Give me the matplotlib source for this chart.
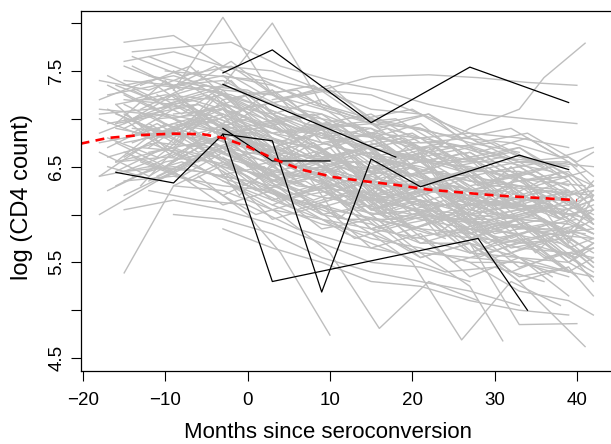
import matplotlib
matplotlib.use("Agg")
import matplotlib.pyplot as plt

# individual trajectories (months, log CD4)
gray_t = [
    [-15, -9, -3, 3, 9, 15, 21, 27, 33, 39],
    [-16, -10, -4, 2, 8, 14, 20, 26, 32, 38],
    [-14, -8, -2, 4, 10, 16, 22, 28, 34, 40],
    [-18, -12, -6, 0, 6, 12, 18, 24, 30, 36, 42],
    [-13, -7, -1, 5, 11, 17, 23, 29, 35, 41],
    [-15, -9, -3, 3, 9, 15, 21],
    [-12, -6, 0, 6, 12, 18, 24, 30, 36],
    [-3, 3, 9, 15, 21, 27, 33, 39],
    [-17, -11, -5, 1, 7, 13, 19, 25, 31, 37],
    [-16, -9, -3, 3, 9, 15, 21, 27, 33],
    [-10, -4, 2, 8, 14, 20, 26, 32, 38],
    [-15, -9, -3, 3, 9, 15, 21, 27, 33, 39, 42],
    [-3, 3, 9, 15, 21, 27, 33, 39],
    [-14, -8, -2, 4, 10, 16, 22, 28],
    [3, 9, 15, 21, 27, 33, 39, 42],
    [-18, -12, -6, 0, 6],
    [-9, -3, 3, 9, 15, 21, 27, 33],
    [9, 15, 21, 27, 33, 39],
    [-17, -11, -5, 1, 7, 13, 19, 25, 31, 37, 42],
    [-15, -9, -3, 3, 9, 15, 21, 27, 33, 39],
    [-13, -7, -1, 5, 11, 17, 23, 29, 35],
    [-3, 3, 9, 15, 21, 27, 33, 39, 42],
    [-16, -10, -4, 2, 8, 14, 20],
    [15, 21, 27, 33, 39, 42],
    [-12, -6, 0, 6, 12, 18, 24, 30, 36, 42],
    [-15, -9, -3, 3, 9, 15, 21, 27, 33, 39],
    [-9, -3, 3, 9, 15, 21, 27, 33, 39],
    [-18, -12, -6, 0, 6, 12, 18, 24],
    [21, 27, 33, 39, 42],
    [-14, -8, -2, 4, 10, 16, 22, 28, 34, 40],
    [-15, -9, -3, 3, 9, 15, 21, 27],
    [-11, -5, 1, 7, 13, 19, 25, 31, 37],
    [-3, 3, 9, 15, 21, 27, 33, 39, 42],
    [-17, -11, -5, 1, 7, 13, 19, 25, 31, 37],
    [3, 9, 15, 21, 27, 33, 39],
    [-15, -9, -3, 3, 9, 15, 21, 27, 33, 39, 42],
    [-3, 3, 9, 15, 21, 27, 33],
    [-16, -10, -4, 2, 8, 14, 20, 26, 32, 38],
    [-13, -7, -1, 5, 11, 17, 23, 29, 35, 41],
    [-18, -12, -6, 0, 6, 12, 18, 24, 30, 36],
    [-3, 3, 9, 15, 21, 27, 33, 39],
    [9, 15, 21, 27, 33, 39, 42],
    [-14, -8, -2, 4, 10, 16, 22, 28, 34, 40],
    [-9, -3, 3, 9, 15, 21, 27, 33, 39],
    [-15, -9, -3, 3, 9, 15, 21, 27, 33, 39],
    [-12, -6, 0, 6, 12, 18, 24, 30, 36, 42],
    [15, 21, 27, 33, 39],
    [-16, -10, -4, 2, 8, 14, 20, 26],
    [-15, -9, -3, 3, 9, 15, 21, 27, 33, 39, 42],
    [-3, 3, 9, 15, 21, 27, 33, 39],
    [-9, -3, 3, 9, 15, 21, 27, 33, 39],
    [-9, -3, 3, 9, 15, 21, 27, 33, 39],
    [-15, -9, -3, 3, 9],
    [-15, -9, -3, 3],
    [-6, 0, 4, 10],
    [-2, 4, 10, 16, 22, 28],
    [9, 15, 20, 26, 32, 38],
    [15, 21, 27, 31],
    [21, 27, 33, 41],
    [15, 21, 27, 33, 40],
    [21, 27, 33, 36, 41],
    [3, 9, 15, 22, 28, 34, 40],
    [-16, -10, -4, 2, 8, 14, 20, 26, 32, 38, 42],
    [-13, -7, -1, 5, 11, 17, 23, 29, 35, 41],
    [-18, -12, -6, 0, 6, 12, 18],
    [-18, -12, -6],
    [27, 33, 39, 42],
    [-3, 3, 9, 15, 21, 27, 33, 39, 42],
    [-15, -9, -3, 3, 9, 15, 21, 27, 33, 39],
    [-14, -8, -2, 4, 10, 16, 22, 28, 34, 40],
    [-10, -4, 2, 8, 14, 20, 26, 32, 38, 42],
    [-3, 3, 9, 15, 21, 27, 33, 39],
    [9, 15, 21, 27, 33, 39, 42],
    [-12, -6, 0, 6, 12, 18, 24, 30, 36],
    [-17, -11, -5, 1, 7, 13, 19, 25, 31, 37, 42],
    [15, 21, 27, 33, 39, 42],
    [-15, -9, -3, 3, 9, 15, 21],
    [3, 9, 15, 21, 27, 33, 39, 42],
    [-9, -3, 3, 9, 15, 21, 27, 33, 39],
    [-16, -10, -4, 2, 8, 14, 20, 26, 32, 38],
    [-17, -11, -5, 1, 7, 13, 19, 25, 31, 37, 42],
    [-14, -8, -2, 4, 10, 16, 22, 28, 34, 40],
    [-15, -9, -3, 3, 9, 15, 21, 27, 33, 39, 42],
    [-12, -6, 0, 6, 12, 18, 24, 30, 36, 42],
    [-16, -10, -4, 2, 8, 14, 20, 26, 32, 38, 42],
    [-13, -7, -1, 5, 11, 17, 23, 29, 35, 41],
    [-18, -12, -6, 0, 6, 12, 18, 24, 30, 36, 42],
    [-9, -3, 3, 9, 15, 21, 27, 33, 39, 42],
    [-15, -9, -3, 3, 9, 15, 21, 27, 33, 39],
    [-11, -5, 1, 7, 13, 19, 25, 31, 37, 42],
    [-3, 3, 9, 15, 21, 27, 33, 39, 42],
    [-16, -10, -4, 2, 8, 14, 20, 26, 32, 38],
    [-14, -8, -2, 4, 10, 16, 22, 28, 34, 40, 42],
    [-17, -11, -5, 1, 7, 13, 19, 25, 31, 37],
    [3, 9, 15, 21, 27, 33, 39, 42],
    [-15, -9, -3, 3, 9, 15, 21, 27, 33, 39, 42],
    [-12, -6, 0, 6, 12, 18, 24, 30, 36, 42],
    [-18, -12, -6, 0, 6, 12, 18, 24, 30, 36],
    [-13, -7, -1, 5, 11, 17, 23, 29, 35, 41],
    [-9, -3, 3, 9, 15, 21, 27, 33, 39, 42],
    [-16, -10, -4, 2, 8, 14, 20, 26, 32, 38, 42],
    [-14, -8, -2, 4, 10, 16, 22, 28, 34, 40],
    [-15, -9, -3, 3, 9, 15, 21, 27, 33, 39],
    [9, 15, 21, 27, 33, 39, 42],
    [-17, -11, -5, 1, 7, 13, 19, 25, 31, 37, 42],
    [-12, -6, 0, 6, 12, 18, 24, 30, 36, 42],
    [-15, -9, -3, 3, 9, 15, 21, 27, 33, 39],
    [-3, 3, 9, 15, 21, 27, 33, 39, 42],
    [-13, -7, -1, 5, 11, 17, 23, 29, 35, 41],
    [-16, -10, -4, 2, 8, 14, 20, 26, 32, 38],
    [-18, -12, -6, 0, 6, 12, 18, 24, 30, 36, 42],
    [-14, -8, -2, 4, 10, 16, 22, 28, 34, 40, 42],
    [-9, -3, 3, 9, 15, 21, 27, 33, 39],
    [-11, -5, 1, 7, 13, 19, 25, 31, 37, 42],
    [15, 21, 27, 33, 39, 42],
    [-15, -9, -3, 3, 9, 15, 21, 27, 33, 39, 42],
    [-17, -11, -5, 1, 7, 13, 19, 25, 31, 37],
    [-12, -6, 0, 6, 12, 18, 24, 30, 36, 42],
    [-3, 3, 9, 15, 21, 27, 33, 39],
    [-16, -10, -4, 2, 8, 14, 20, 26, 32, 38, 42],
    [-14, -8, -2, 4, 10, 16, 22, 28, 34, 40],
    [-13, -7, -1, 5, 11, 17, 23, 29, 35, 41],
    [3, 9, 15, 21, 27, 33, 39, 42],
    [-15, -9, -3, 3, 9, 15, 21, 27, 33, 39],
    [-18, -12, -6, 0, 6, 12, 18, 24, 30, 36],
    [-10, -4, 2, 8, 14, 20, 26, 32, 38, 42],
    [-17, -11, -5, 1, 7, 13, 19, 25, 31, 37, 42],
    [9, 15, 21, 27, 33, 39, 42],
    [-15, -9, -3, 3, 9, 15, 21, 27, 33, 39, 42],
    [-12, -6, 0, 6, 12, 18, 24, 30, 36],
    [-14, -8, -2, 4, 10, 16, 22, 28, 34, 40],
    [-16, -10, -4, 2, 8, 14, 20, 26, 32, 38],
    [-3, 3, 9, 15, 21, 27, 33, 39, 42],
    [-13, -7, -1, 5, 11, 17, 23, 29, 35, 41],
    [-9, -3, 3, 9, 15, 21, 27, 33, 39, 42],
    [-18, -12, -6, 0, 6, 12, 18, 24, 30, 36, 42],
    [15, 21, 27, 33, 39, 42],
    [-15, -9, -3, 3, 9, 15, 21, 27, 33, 39],
    [-11, -5, 1, 7, 13, 19, 25, 31, 37, 42],
    [-17, -11, -5, 1, 7, 13, 19, 25, 31, 37],
]
gray_y = [
    [7.35, 7.45, 7.30, 7.25, 6.95, 6.90, 6.70, 6.72, 6.55, 6.50],
    [6.90, 6.80, 7.00, 6.60, 6.55, 6.30, 6.35, 6.10, 6.15, 5.95],
    [6.40, 6.55, 6.35, 6.20, 6.05, 5.95, 5.80, 5.75, 5.70, 5.55],
    [7.10, 7.05, 7.15, 6.90, 6.80, 6.55, 6.55, 6.40, 6.30, 6.25, 6.20],
    [6.70, 6.65, 6.55, 6.35, 6.20, 6.15, 5.95, 5.90, 5.85, 5.80],
    [7.60, 7.70, 7.55, 7.50, 7.30, 7.25, 7.05],
    [6.25, 6.15, 6.10, 5.85, 5.70, 5.60, 5.40, 5.45, 5.30],
    [7.15, 7.05, 6.85, 6.70, 6.55, 6.50, 6.35, 6.40],
    [6.95, 7.05, 6.90, 6.85, 6.60, 6.55, 6.35, 6.30, 6.20, 6.10],
    [6.55, 6.70, 6.50, 6.40, 6.25, 6.00, 6.05, 5.85, 5.80],
    [7.50, 7.45, 7.40, 7.15, 7.00, 6.90, 6.80, 6.75, 6.60],
    [6.35, 6.40, 6.30, 6.25, 6.00, 5.90, 5.70, 5.70, 5.55, 5.50, 5.35],
    [6.90, 6.65, 6.60, 6.35, 6.30, 6.15, 6.05, 6.10],
    [7.20, 7.35, 7.25, 7.05, 6.85, 6.80, 6.65, 6.55],
    [6.60, 6.40, 6.20, 6.15, 6.00, 5.95, 5.90, 5.80],
    [7.05, 7.10, 7.15, 6.95, 6.75],
    [6.00, 5.95, 5.80, 5.55, 5.40, 5.30, 5.20, 5.05],
    [7.30, 7.10, 7.05, 6.85, 6.80, 6.70],
    [6.60, 6.75, 6.70, 6.50, 6.40, 6.15, 6.15, 5.95, 5.90, 5.80, 5.85],
    [7.20, 7.15, 7.25, 7.00, 6.80, 6.70, 6.60, 6.45, 6.45, 6.30],
    [6.85, 7.00, 6.80, 6.50, 6.45, 6.30, 6.25, 6.05, 6.10],
    [6.35, 6.10, 5.90, 5.80, 5.60, 5.55, 5.50, 5.40, 5.35],
    [6.95, 7.05, 6.95, 6.80, 6.70, 6.45, 6.40],
    [6.05, 5.95, 5.85, 5.70, 5.75, 5.60],
    [7.45, 7.35, 7.30, 7.05, 6.95, 6.75, 6.75, 6.60, 6.55, 6.50],
    [6.75, 6.85, 6.70, 6.60, 6.40, 6.30, 6.10, 6.10, 5.95, 5.90],
    [7.05, 7.10, 6.90, 6.75, 6.60, 6.45, 6.40, 6.30, 6.25],
    [6.40, 6.50, 6.45, 6.35, 6.15, 5.95, 5.95, 5.75],
    [6.30, 6.10, 6.10, 6.00, 5.95],
    [7.70, 7.75, 7.80, 7.55, 7.40, 7.30, 7.15, 7.05, 7.00, 6.95],
    [6.05, 6.15, 6.05, 5.90, 5.70, 5.50, 5.45, 5.30],
    [7.00, 7.05, 6.85, 6.70, 6.50, 6.45, 6.25, 6.25, 6.10],
    [6.65, 6.45, 6.35, 6.15, 6.05, 6.00, 5.85, 5.85, 5.75],
    [7.25, 7.35, 7.30, 7.15, 6.95, 6.85, 6.75, 6.55, 6.55, 6.45],
    [6.15, 5.95, 5.85, 5.75, 5.60, 5.55, 5.40],
    [6.80, 6.95, 6.85, 6.70, 6.50, 6.35, 6.30, 6.15, 6.10, 6.00, 6.05],
    [7.45, 7.35, 7.15, 6.95, 6.90, 6.75, 6.65],
    [6.55, 6.60, 6.55, 6.40, 6.20, 6.10, 6.00, 5.95, 5.80, 5.70],
    [7.20, 7.20, 7.05, 6.85, 6.70, 6.60, 6.55, 6.45, 6.35, 6.30],
    [6.75, 6.85, 6.80, 6.60, 6.50, 6.25, 6.20, 6.10, 6.00, 5.95],
    [5.85, 5.65, 5.50, 5.30, 5.25, 5.10, 5.00, 4.95],
    [6.75, 6.60, 6.50, 6.35, 6.30, 6.20, 6.25],
    [6.90, 6.85, 6.75, 6.55, 6.45, 6.30, 6.25, 6.15, 6.05, 6.00],
    [6.30, 6.25, 6.05, 5.95, 5.75, 5.65, 5.50, 5.50, 5.35],
    [7.40, 7.35, 7.40, 7.15, 7.05, 6.85, 6.80, 6.70, 6.55, 6.55],
    [6.65, 6.75, 6.55, 6.30, 6.25, 6.10, 5.95, 5.95, 5.80, 5.75],
    [6.50, 6.40, 6.25, 6.15, 6.15],
    [7.15, 7.25, 7.20, 7.00, 6.85, 6.70, 6.60, 6.45],
    [6.45, 6.50, 6.40, 6.30, 6.10, 5.95, 5.85, 5.80, 5.65, 5.60, 5.55],
    [6.80, 6.70, 6.55, 6.40, 6.25, 6.20, 6.10, 6.05],
    [7.30, 8.06, 7.25, 7.10, 6.95, 6.80, 6.85, 6.60, 6.50],
    [7.20, 7.35, 8.00, 7.15, 7.00, 6.90, 6.60, 6.70, 6.40],
    [7.80, 7.87, 7.55, 7.40, 7.30],
    [5.39, 6.30, 6.55, 6.15],
    [6.40, 6.00, 5.60, 4.74],
    [6.30, 6.00, 5.60, 4.81, 5.30, 5.10],
    [6.10, 5.80, 5.50, 4.69, 5.30, 5.05],
    [6.00, 5.60, 5.25, 4.68],
    [6.10, 5.70, 5.30, 4.62],
    [6.30, 6.00, 5.70, 4.85, 4.86],
    [6.60, 6.90, 7.10, 7.43, 7.79],
    [7.20, 7.30, 7.44, 7.46, 7.43, 7.38, 7.35],
    [7.15, 6.70, 7.25, 6.60, 7.00, 6.35, 6.75, 6.05, 6.50, 5.95, 6.35],
    [6.30, 6.85, 6.20, 6.70, 5.95, 6.40, 5.80, 6.15, 5.60, 6.10],
    [6.00, 6.30, 6.60, 6.40, 6.10, 5.80, 5.60],
    [7.40, 7.30, 7.50],
    [5.50, 5.20, 5.10, 4.95],
    [7.10, 6.50, 6.90, 6.20, 6.60, 5.90, 6.40, 5.70, 6.20],
    [6.20, 6.45, 6.10, 6.25, 5.85, 5.95, 5.55, 5.70, 5.35, 5.45],
    [7.55, 7.30, 7.60, 7.20, 7.35, 6.90, 7.05, 6.65, 6.80, 6.50],
    [6.50, 6.90, 6.45, 6.75, 6.20, 6.50, 5.95, 6.25, 5.75, 6.05],
    [6.45, 5.95, 6.10, 5.65, 5.80, 5.35, 5.55, 5.15],
    [6.90, 6.95, 6.60, 6.70, 6.40, 6.55, 6.30],
    [7.65, 7.45, 7.25, 7.30, 6.95, 7.00, 6.70, 6.75, 6.50],
    [6.50, 6.35, 6.60, 6.25, 6.35, 6.05, 5.95, 6.00, 5.70, 5.80, 5.50],
    [6.75, 6.55, 6.65, 6.35, 6.45, 6.20],
    [7.00, 6.60, 6.95, 6.35, 6.55, 6.10, 6.30],
    [6.10, 6.30, 5.85, 6.00, 5.60, 5.80, 5.40, 5.55],
    [6.70, 7.20, 6.60, 6.95, 6.35, 6.65, 6.05, 6.40, 5.95],
    [6.95, 7.40, 6.85, 7.15, 6.60, 6.90, 6.40, 6.65, 6.20, 6.45],
    [7.45, 7.20, 7.35, 7.10, 6.85, 6.95, 6.60, 6.70, 6.40, 6.50, 6.30],
    [6.85, 7.15, 6.95, 6.45, 6.70, 6.15, 6.35, 5.90, 6.05, 5.70],
    [7.05, 6.75, 7.30, 6.80, 6.55, 6.65, 6.20, 6.40, 5.95, 6.15, 5.90],
    [6.70, 7.05, 6.50, 6.60, 6.10, 6.25, 5.80, 5.95, 5.55, 5.65],
    [6.55, 6.95, 6.75, 6.40, 6.15, 6.35, 5.85, 6.05, 5.60, 5.80, 5.50],
    [7.35, 7.55, 7.10, 7.20, 6.75, 6.90, 6.55, 6.60, 6.30, 6.45],
    [6.40, 6.75, 6.55, 6.85, 6.35, 6.50, 6.05, 6.20, 5.85, 5.95, 5.70],
    [7.00, 6.70, 6.45, 6.55, 6.05, 6.25, 5.75, 5.95, 5.50, 5.70],
    [6.95, 7.25, 6.90, 6.95, 6.60, 6.45, 6.55, 6.15, 6.30, 5.95],
    [7.25, 6.95, 7.15, 6.70, 6.80, 6.40, 6.55, 6.15, 6.25, 5.95],
    [6.95, 7.30, 6.75, 6.85, 6.45, 6.60, 6.20, 6.35, 6.05],
    [6.30, 6.55, 6.65, 6.25, 6.05, 6.20, 5.75, 5.85, 5.40, 5.60],
    [7.30, 7.05, 7.40, 6.85, 6.95, 6.55, 6.70, 6.30, 6.45, 6.10, 6.25],
    [6.80, 6.60, 7.00, 6.75, 6.45, 6.60, 6.15, 6.30, 5.95, 6.05],
    [6.95, 6.60, 6.70, 6.30, 6.45, 6.05, 6.20, 5.90],
    [6.60, 6.90, 6.55, 6.35, 6.50, 6.05, 6.20, 5.80, 5.95, 5.55, 5.70],
    [7.15, 6.85, 7.00, 6.60, 6.75, 6.40, 6.45, 6.10, 6.25, 6.00],
    [7.20, 7.40, 7.05, 7.25, 6.85, 6.95, 6.65, 6.75, 6.45, 6.55],
    [6.95, 6.70, 6.85, 6.35, 6.50, 6.10, 6.25, 5.85, 6.00, 5.65],
    [7.50, 7.20, 7.30, 6.95, 7.05, 6.75, 6.80, 6.55, 6.60, 6.40],
    [7.05, 6.85, 7.10, 6.65, 6.75, 6.40, 6.50, 6.15, 6.30, 5.95, 6.10],
    [6.60, 6.40, 6.70, 6.15, 6.25, 5.85, 6.00, 5.55, 5.75, 5.35],
    [7.55, 7.35, 7.45, 7.05, 7.20, 6.80, 6.95, 6.55, 6.70, 6.35],
    [6.35, 6.00, 6.15, 5.75, 5.90, 5.50, 5.65],
    [6.70, 6.95, 6.65, 6.80, 6.40, 6.55, 6.20, 6.30, 5.95, 6.10, 5.85],
    [6.35, 6.60, 6.30, 6.05, 6.20, 5.80, 5.95, 5.55, 5.70, 5.40],
    [7.15, 6.90, 7.05, 6.80, 6.55, 6.65, 6.35, 6.45, 6.10, 6.25],
    [6.20, 6.45, 6.00, 6.10, 5.70, 5.85, 5.45, 5.60, 5.30],
    [7.10, 7.35, 7.00, 6.85, 6.95, 6.55, 6.70, 6.35, 6.45, 6.15],
    [6.75, 6.50, 6.80, 6.55, 6.25, 6.40, 6.00, 6.15, 5.75, 5.95],
    [6.85, 7.05, 6.75, 6.90, 6.50, 6.65, 6.25, 6.40, 6.05, 6.20, 5.90],
    [7.65, 7.45, 7.55, 7.20, 7.30, 6.95, 7.05, 6.75, 6.85, 6.55, 6.65],
    [6.55, 6.85, 6.35, 6.45, 6.05, 6.20, 5.80, 5.95, 5.55],
    [6.40, 6.65, 6.35, 6.10, 6.25, 5.90, 6.00, 5.65, 5.80, 5.45],
    [5.85, 5.55, 5.70, 5.30, 5.45, 5.15],
    [6.90, 7.15, 6.95, 6.70, 6.85, 6.45, 6.55, 6.25, 6.35, 6.05, 6.15],
    [7.35, 7.10, 7.25, 6.95, 7.05, 6.70, 6.80, 6.50, 6.60, 6.30],
    [6.95, 6.65, 6.80, 6.45, 6.55, 6.20, 6.30, 6.00, 6.10, 5.80],
    [7.25, 6.95, 7.05, 6.70, 6.80, 6.45, 6.55, 6.25],
    [6.45, 6.70, 6.40, 6.50, 6.10, 6.25, 5.85, 6.00, 5.65, 5.75, 5.45],
    [7.00, 7.20, 6.85, 6.95, 6.60, 6.75, 6.35, 6.50, 6.15, 6.25],
    [6.55, 6.35, 6.60, 6.20, 6.30, 5.95, 6.05, 5.70, 5.85, 5.45],
    [7.05, 6.80, 6.90, 6.55, 6.65, 6.35, 6.40, 6.15],
    [6.45, 6.65, 6.35, 6.15, 6.30, 5.85, 6.00, 5.60, 5.75, 5.40],
    [6.65, 6.40, 6.70, 6.45, 6.20, 6.35, 5.95, 6.10, 5.75, 5.85],
    [7.30, 7.55, 7.25, 7.35, 7.00, 7.10, 6.80, 6.90, 6.60, 6.70],
    [7.10, 6.85, 7.00, 6.65, 6.80, 6.45, 6.55, 6.20, 6.35, 6.00, 6.15],
    [6.55, 6.70, 6.30, 6.40, 6.05, 6.20, 5.95],
    [7.25, 7.00, 7.15, 6.85, 6.95, 6.60, 6.70, 6.40, 6.50, 6.20, 6.30],
    [6.50, 6.75, 6.55, 6.25, 6.40, 6.00, 6.15, 5.80, 5.90],
    [6.75, 6.95, 6.60, 6.70, 6.30, 6.45, 6.05, 6.20, 5.85, 5.95],
    [7.35, 7.15, 7.30, 6.95, 7.05, 6.75, 6.85, 6.55, 6.65, 6.40],
    [6.60, 6.30, 6.40, 6.05, 6.15, 5.85, 5.95, 5.65, 5.75],
    [6.85, 6.60, 6.75, 6.50, 6.25, 6.40, 6.00, 6.15, 5.80, 5.90],
    [6.90, 7.10, 6.75, 6.85, 6.50, 6.60, 6.30, 6.40, 6.10, 6.20],
    [7.00, 6.80, 6.95, 6.70, 6.40, 6.55, 6.15, 6.30, 5.95, 6.05, 5.80],
    [6.20, 6.35, 6.00, 6.10, 5.80, 5.95],
    [6.65, 6.45, 6.70, 6.40, 6.50, 6.15, 6.25, 5.95, 6.05, 5.80],
    [6.80, 7.00, 6.70, 6.55, 6.65, 6.30, 6.40, 6.10, 6.20, 5.95],
    [6.25, 6.50, 6.30, 6.00, 6.15, 5.75, 5.90, 5.50, 5.65, 5.35],
]

# highlighted subjects
black_t = [
    [-16, -9, -3, 3, 28, 34],
    [-3, 3, 9, 15, 21, 33, 39],
    [-3, 3, 10],
    [-3, 3, 15, 27, 39],
    [-3, 18],
]
black_y = [
    [6.44, 6.33, 6.84, 5.30, 5.75, 5.00],
    [6.84, 6.77, 5.19, 6.58, 6.29, 6.62, 6.47],
    [6.90, 6.56, 6.56],
    [7.48, 7.72, 6.96, 7.54, 7.17],
    [7.36, 6.60],
]

# smoothed mean curve
mean_t = [-20.3, -17, -13, -9, -5.5, -3, 0, 3.5, 6.5, 10.5, 14, 18, 22, 26, 30, 34, 40]
mean_y = [6.74, 6.80, 6.83, 6.845, 6.84, 6.80, 6.71, 6.57, 6.47, 6.39, 6.35, 6.31, 6.26, 6.23, 6.20, 6.18, 6.15]

xticks = [-20, -10, 0, 10, 20, 30, 40]
yticks = [4.5, 5.0, 5.5, 6.0, 6.5, 7.0, 7.5, 8.0]
ylabels = ["4.5", "", "5.5", "", "6.5", "", "7.5", ""]

plt.rcParams["font.family"] = ["Liberation Sans", "DejaVu Sans"]

fig = plt.figure(figsize=(6.11, 4.44), dpi=100)
ax = fig.add_axes([0.1321, 0.1644, 0.874, 0.8116])

for t, y in zip(gray_t, gray_y):
    ax.plot(t, y, color="#bebebe", lw=1.0)
for t, y in zip(black_t, black_y):
    ax.plot(t, y, color="black", lw=0.9)
ax.plot(mean_t, mean_y, color="red", lw=1.9, dashes=(3.4, 2.4))

ax.set_xlim(-20.28, 44.6)
ax.set_ylim(4.365, 8.13)
ax.set_xticks(xticks)
ax.set_xticklabels([str(v).replace("-", "\u2212") for v in xticks])
ax.set_yticks(yticks)
ax.set_yticklabels(ylabels, rotation=90, va="center")
ax.tick_params(direction="out", length=7, width=0.8, labelsize=13.5)
ax.tick_params(axis="x", pad=8)
ax.tick_params(axis="y", pad=4)
for s in ax.spines.values():
    s.set_linewidth(0.9)

ax.set_xlabel("Months since seroconversion", fontsize=16, va="center")
ax.xaxis.set_label_coords(0.463, -0.172)
ax.set_ylabel("log (CD4 count)", fontsize=17, va="center")
ax.yaxis.set_label_coords(-0.110, 0.484)

fig.savefig("out.png", dpi=100)
